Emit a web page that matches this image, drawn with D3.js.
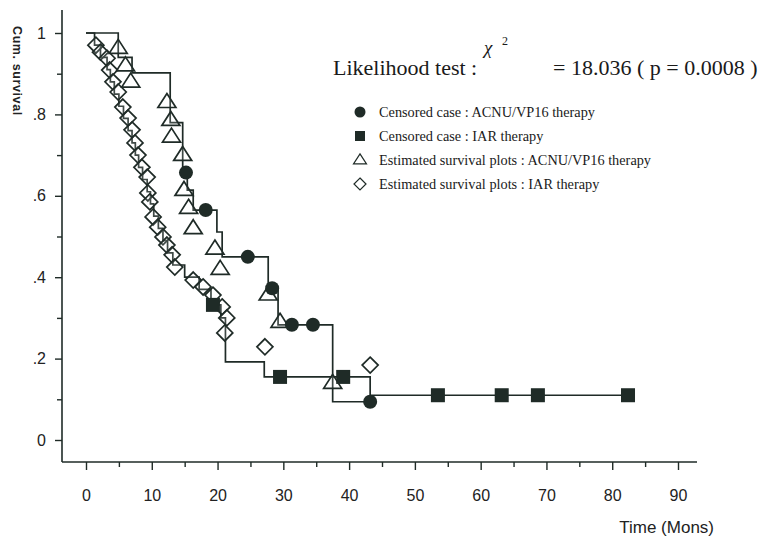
<!DOCTYPE html>
<html><head><meta charset="utf-8">
<script src="https://cdn.jsdelivr.net/npm/d3@7"></script>
<style>body{margin:0;background:#fff}</style></head>
<body><svg id="c" width="763" height="540"></svg>
<script>
// ---- data ----
const xTickValues = d3.range(0, 95, 5);
const xTickLabels = ["0","10","20","30","40","50","60","70","80","90"];
const yTickValues = d3.range(0, 11).map(i => i / 10);
const yTickLabels = ["0",".2",".4",".6",".8","1"];

// Kaplan-Meier step curve, ACNU/VP16 therapy
const acnuStepTime = [0, 4.9, 7.0, 12.8, 14.7, 15.4, 16.3, 19.9, 20.7, 27.7, 29.2, 37.5, 43.2];
const acnuStepSurv = [1, 0.94, 0.902, 0.78, 0.657, 0.614, 0.565, 0.511, 0.45, 0.373, 0.283, 0.094, 0.094];
// censored cases, ACNU/VP16
const acnuCensTime = [15.2, 18.2, 24.6, 28.3, 31.3, 34.5, 43.2];
const acnuCensSurv = [0.657, 0.565, 0.45, 0.373, 0.283, 0.283, 0.094];
// estimated survival plots, ACNU/VP16
const acnuEstTime = [4.9, 6.0, 6.8, 12.3, 12.9, 13.0, 14.7, 14.9, 15.6, 16.3, 19.6, 20.4, 27.7, 29.5, 37.5];
const acnuEstSurv = [0.963, 0.92, 0.88, 0.83, 0.786, 0.745, 0.70, 0.614, 0.57, 0.52, 0.47, 0.42, 0.357, 0.29, 0.14];

// Kaplan-Meier step curve, IAR therapy
const iarStepTime = [0, 1.3, 2.2, 3.2, 3.7, 4.3, 5.0, 5.7, 6.4, 7.0, 7.5, 8.0, 8.6, 9.3, 9.8, 10.3, 11.0, 11.7, 12.4, 13.2, 15.0, 17.2, 19.0, 20.5, 21.2, 27.1, 43.2, 82.4];
const iarStepSurv = [1, 0.97, 0.94, 0.91, 0.88, 0.85, 0.82, 0.79, 0.76, 0.73, 0.70, 0.67, 0.64, 0.61, 0.58, 0.55, 0.52, 0.49, 0.46, 0.43, 0.40, 0.37, 0.332, 0.30, 0.192, 0.155, 0.11, 0.11];
// censored cases, IAR
const iarCensTime = [19.3, 29.5, 39.1, 53.5, 63.2, 68.7, 82.4];
const iarCensSurv = [0.332, 0.155, 0.155, 0.11, 0.11, 0.11, 0.11];
// estimated survival plots, IAR
const iarEstTime = [1.5, 2.2, 3.2, 3.6, 4.1, 4.9, 5.6, 6.4, 7.0, 7.45, 7.9, 8.5, 9.3, 9.4, 9.7, 10.2, 10.9, 11.7, 12.3, 13.1, 13.5, 16.3, 17.8, 19.3, 20.7, 21.4, 21.1, 27.2, 43.2];
const iarEstSurv = [0.97, 0.953, 0.938, 0.909, 0.88, 0.855, 0.818, 0.791, 0.762, 0.73, 0.70, 0.67, 0.646, 0.607, 0.585, 0.548, 0.523, 0.499, 0.479, 0.455, 0.425, 0.393, 0.376, 0.356, 0.327, 0.30, 0.263, 0.229, 0.184];

const legendLabels = [
  "Censored case : ACNU/VP16 therapy",
  "Censored case : IAR therapy",
  "Estimated survival plots : ACNU/VP16 therapy",
  "Estimated survival plots : IAR therapy"
];

// ---- drawing ----
const ink = "#1f2b27";
const svg = d3.select("#c");
const x = d3.scaleLinear().domain([0, 90]).range([86, 678]);
const y = d3.scaleLinear().domain([0, 1]).range([440, 33]);
const sans = "'Liberation Sans Narrow','Liberation Sans',Arial,sans-serif";
const serif = "'Liberation Serif','Times New Roman',serif";

// axes
const axisY = 462, axisX = 62;
svg.append("line").attr("x1", axisX).attr("x2", 697).attr("y1", axisY).attr("y2", axisY)
  .attr("stroke", ink).attr("stroke-width", 1.6);
svg.append("line").attr("x1", axisX).attr("x2", axisX).attr("y1", 10).attr("y2", axisY)
  .attr("stroke", ink).attr("stroke-width", 1.6);

const xa = svg.append("g").attr("transform", `translate(0,${axisY})`)
  .call(d3.axisBottom(x).tickValues(xTickValues).tickSizeOuter(0)
    .tickFormat(d => d % 10 === 0 ? xTickLabels[d / 10] : ""));
xa.select(".domain").remove();
xa.selectAll(".tick line").attr("stroke", ink).attr("stroke-width", 1.4)
  .attr("y2", d => d % 10 === 0 ? 8 : 5);
xa.selectAll(".tick text").attr("y", 28).attr("fill", "#222")
  .style("font-family", sans).style("font-size", "16px");

const ya = svg.append("g").attr("transform", `translate(${axisX},0)`)
  .call(d3.axisLeft(y).tickValues(yTickValues).tickSizeOuter(0)
    .tickFormat(d => { const i = Math.round(d * 10); return i % 2 === 0 ? yTickLabels[i / 2] : ""; }));
ya.select(".domain").remove();
ya.selectAll(".tick line").attr("stroke", ink).attr("stroke-width", 1.4)
  .attr("x2", d => Math.round(d * 10) % 2 === 0 ? -7 : -5);
ya.selectAll(".tick text").attr("x", -16).attr("fill", "#222")
  .style("font-family", sans).style("font-size", "16px");

svg.append("text").attr("transform", "translate(13,26) rotate(90)")
  .attr("fill", "#222").style("font-family", "'Liberation Sans',Arial,sans-serif")
  .style("font-weight", "bold").style("font-size", "12.5px").style("letter-spacing", "0.6px")
  .text("Cum. survival");

svg.append("text").attr("x", 714).attr("y", 533).attr("text-anchor", "end")
  .attr("fill", "#222").style("font-family", sans).style("font-size", "17px").text("Time (Mons)");

// step curves
const step = d3.line().x(d => x(d[0])).y(d => y(d[1])).curve(d3.curveStepAfter);
svg.append("path").datum(acnuStepTime.map((t, i) => [t, acnuStepSurv[i]]))
  .attr("d", step).attr("fill", "none").attr("stroke", ink).attr("stroke-width", 1.7);
svg.append("path").datum(iarStepTime.map((t, i) => [t, iarStepSurv[i]]))
  .attr("d", step).attr("fill", "none").attr("stroke", ink).attr("stroke-width", 1.7);

// markers
function diamondPath(s) { return `M0,${-s}L${s},0L0,${s}L${-s},0Z`; }
function triPath(w, h) { return `M0,${-h * 0.62}L${w / 2},${h * 0.38}L${-w / 2},${h * 0.38}Z`; }

svg.append("g").selectAll("path").data(iarEstTime.map((t, i) => [t, iarEstSurv[i]])).join("path")
  .attr("transform", d => `translate(${x(d[0])},${y(d[1])})`)
  .attr("d", diamondPath(8)).attr("fill", "#fff").attr("fill-opacity", 0.15)
  .attr("stroke", ink).attr("stroke-width", 1.7);

svg.append("g").selectAll("path").data(acnuEstTime.map((t, i) => [t, acnuEstSurv[i]])).join("path")
  .attr("transform", d => `translate(${x(d[0])},${y(d[1])})`)
  .attr("d", triPath(18, 14)).attr("fill", "#fff").attr("fill-opacity", 0.15)
  .attr("stroke", ink).attr("stroke-width", 1.7);

svg.append("g").selectAll("circle").data(acnuCensTime.map((t, i) => [t, acnuCensSurv[i]])).join("circle")
  .attr("cx", d => x(d[0])).attr("cy", d => y(d[1])).attr("r", 7).attr("fill", ink);

svg.append("g").selectAll("rect").data(iarCensTime.map((t, i) => [t, iarCensSurv[i]])).join("rect")
  .attr("x", d => x(d[0]) - 7).attr("y", d => y(d[1]) - 7).attr("width", 14).attr("height", 14).attr("fill", ink);

// likelihood text
const lt = svg.append("g").attr("fill", "#1a1a1a").style("font-family", serif);
lt.append("text").attr("x", 333).attr("y", 75).style("font-size", "22px").text("Likelihood test :");
lt.append("text").attr("x", 484).attr("y", 54).style("font-size", "19px").style("font-style", "italic").text("χ");
lt.append("text").attr("x", 502).attr("y", 45).style("font-size", "12px").text("2");
lt.append("text").attr("x", 553).attr("y", 75).style("font-size", "22px").text("= 18.036 ( p = 0.0008 )");

// legend
const legY = [112, 136, 160, 184];
const lg = svg.append("g");
lg.append("circle").attr("cx", 360).attr("cy", legY[0]).attr("r", 5.5).attr("fill", ink);
lg.append("rect").attr("x", 355).attr("y", legY[1] - 5).attr("width", 10).attr("height", 10).attr("fill", ink);
lg.append("path").attr("transform", `translate(360,${legY[2]})`).attr("d", triPath(13, 10))
  .attr("fill", "none").attr("stroke", ink).attr("stroke-width", 1.2);
lg.append("path").attr("transform", `translate(360,${legY[3]})`).attr("d", diamondPath(6))
  .attr("fill", "none").attr("stroke", ink).attr("stroke-width", 1.2);
lg.selectAll("text").data(legendLabels).join("text")
  .attr("x", 379).attr("y", (d, i) => legY[i] + 4.5)
  .attr("fill", "#1a1a1a").style("font-family", serif).style("font-size", "14.3px").text(d => d);
</script>
</body></html>
